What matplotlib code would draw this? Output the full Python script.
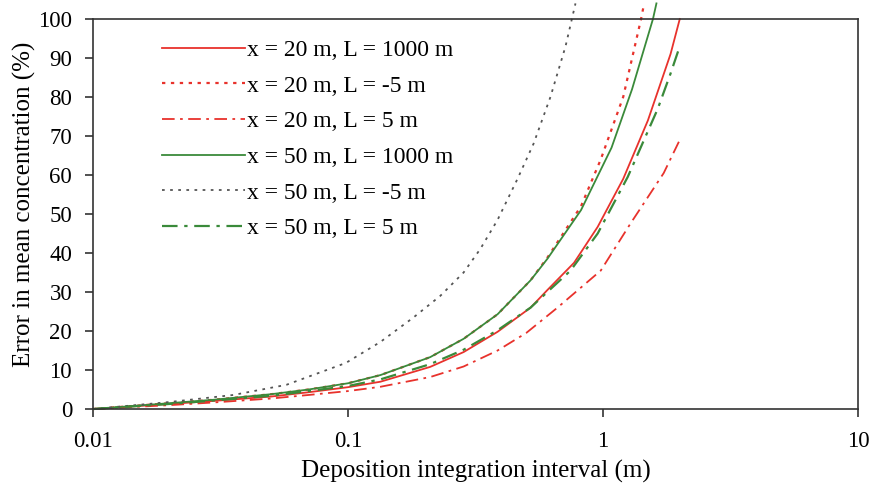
import matplotlib
matplotlib.use('Agg')
import matplotlib.pyplot as plt
from matplotlib.ticker import FixedLocator, NullLocator

plt.rcParams['font.family'] = ['Liberation Serif', 'DejaVu Serif']

# x = 20 m, L = 1000 m
x_20_1000 = [0.01, 0.02, 0.03, 0.05, 0.07, 0.1, 0.134, 0.21, 0.284, 0.386, 0.52, 0.605, 0.77, 0.953, 1.2, 1.5, 1.84, 2.0]
y_20_1000 = [0, 1.3, 2.1, 3.2, 4.3, 5.6, 7.0, 10.8, 14.6, 19.8, 26, 30.5, 37.5, 46.7, 59, 74, 91, 100]

# x = 20 m, L = -5 m
x_20_m5 = [0.01, 0.02, 0.03, 0.05, 0.07, 0.1, 0.134, 0.21, 0.284, 0.386, 0.52, 0.605, 0.82, 0.98, 1.2, 1.41, 1.45]
y_20_m5 = [0, 1.5, 2.4, 3.8, 5.0, 6.6, 8.7, 13.3, 18.0, 24.3, 33, 38.8, 52, 64, 80, 100, 104]

# x = 20 m, L = 5 m
x_20_5 = [0.01, 0.02, 0.03, 0.05, 0.07, 0.1, 0.134, 0.21, 0.284, 0.386, 0.5, 0.663, 0.98, 1.28, 1.73, 2.0]
y_20_5 = [0, 1.0, 1.7, 2.7, 3.6, 4.6, 5.7, 8.2, 10.9, 15, 19.5, 26, 35.5, 47.5, 60.5, 69]

# x = 50 m, L = 1000 m
x_50_1000 = [0.01, 0.02, 0.03, 0.05, 0.07, 0.1, 0.134, 0.21, 0.284, 0.386, 0.52, 0.605, 0.82, 1.08, 1.3, 1.57, 1.62]
y_50_1000 = [0, 1.5, 2.4, 3.8, 5.0, 6.6, 8.7, 13.3, 18.0, 24.3, 33, 38.5, 51, 67, 82, 100, 104]

# x = 50 m, L = -5 m
x_50_m5 = [0.01, 0.02, 0.0355, 0.0573, 0.098, 0.134, 0.18, 0.23, 0.284, 0.33, 0.386, 0.462, 0.534, 0.622, 0.713, 0.78]
y_50_m5 = [0, 1.8, 3.6, 6.2, 11.8, 17.2, 23.4, 29, 35, 41, 48.5, 59, 68, 80, 93, 104]

# x = 50 m, L = 5 m
x_50_5 = [0.01, 0.02, 0.03, 0.05, 0.07, 0.1, 0.134, 0.21, 0.284, 0.386, 0.52, 0.605, 0.746, 0.953, 1.25, 1.64, 1.84, 2.0]
y_50_5 = [0, 1.3, 2.2, 3.4, 4.6, 5.9, 7.6, 11.5, 15.2, 20.2, 26, 30, 35.5, 45, 59.5, 77, 86, 93]

labels = ['x = 20 m, L = 1000 m', 'x = 20 m, L = -5 m', 'x = 20 m, L = 5 m',
          'x = 50 m, L = 1000 m', 'x = 50 m, L = -5 m', 'x = 50 m, L = 5 m']

red = '#e8322c'
green = '#3a8a3a'
grey = '#555555'

fig = plt.figure(figsize=(8.74, 4.95), dpi=100)
ax = fig.add_axes([0.1064, 0.1737, 0.8753, 0.7879])

ax.plot(x_20_1000, y_20_1000, color=red, lw=1.3, label=labels[0], clip_on=False)
ax.plot(x_20_m5, y_20_m5, color=red, lw=1.6, ls=(0, (1.5, 2.5)), label=labels[1], clip_on=False)
ax.plot(x_20_5, y_20_5, color=red, lw=1.3, ls=(0, (7, 3, 1.5, 3)), label=labels[2], clip_on=False)
ax.plot(x_50_1000, y_50_1000, color=green, lw=1.3, label=labels[3], clip_on=False)
ax.plot(x_50_m5, y_50_m5, color=grey, lw=1.3, ls=(0, (1.5, 3)), label=labels[4], clip_on=False)
ax.plot(x_50_5, y_50_5, color=green, lw=1.6, ls=(0, (7, 3, 1.5, 3)), label=labels[5], clip_on=False)

ax.set_xscale('log')
ax.set_xlim(0.01, 10)
ax.set_ylim(0, 100)
ax.xaxis.set_major_locator(FixedLocator([0.01, 0.1, 1, 10]))
ax.xaxis.set_minor_locator(NullLocator())
ax.set_xticklabels(['0.01', '0.1', '1', '10'])
ax.set_yticks(range(0, 101, 10))

ax.tick_params(axis='both', labelsize=16.5, direction='out', length=6, width=1.2, color='#333333')
ax.tick_params(axis='x', pad=10)
ax.tick_params(axis='y', pad=9)
for s in ax.spines.values():
    s.set_linewidth(1.2)
    s.set_color('#333333')

ax.set_xlabel('Deposition integration interval (m)', fontsize=18)
ax.set_ylabel('Error in mean concentration (%)', fontsize=18)
ax.xaxis.set_label_coords(0.5, -0.13)
ax.yaxis.set_label_coords(-0.074, 0.525)

leg = ax.legend(loc='upper left', bbox_to_anchor=(0.069, 0.99), frameon=False, fontsize=17,
                handlelength=3.5, handletextpad=0.1, labelspacing=0.6, borderpad=0.2)

fig.savefig('out.png', dpi=100, facecolor='white')
